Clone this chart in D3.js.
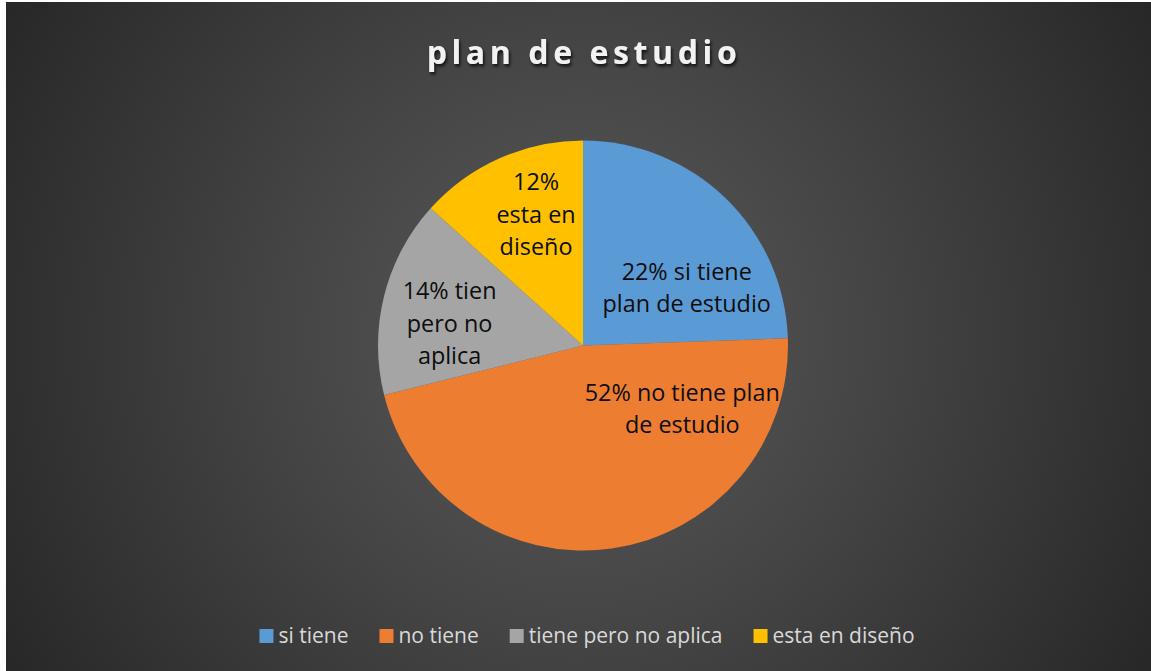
<!DOCTYPE html>
<html>
<head>
<meta charset="utf-8">
<script src="https://cdn.jsdelivr.net/npm/d3@7"></script>
<style>
  html, body { margin: 0; padding: 0; background: #ffffff; }
  svg { display: block; }
</style>
</head>
<body>
<script>
// ---- data ----
const categories = ["si tiene", "no tiene", "tiene pero no aplica", "esta en diseño"];
const values = [11, 21, 7, 6];
const labelLines = [
  ["22% si tiene", "plan de estudio"],
  ["52% no tiene plan", "de estudio"],
  ["14% tien", "pero no", "aplica"],
  ["12%", "esta en", "diseño"]
];
const colors = ["#5b9bd5", "#ed7d31", "#a5a5a5", "#ffc000"];
const title = "plan de estudio";

// ---- layout ----
const W = 1151, H = 671;
const frame = { x: 6, y: 2, w: W - 6, h: H - 2 };
const cx = 583, cy = 345.5, R = 205;
// label placement within each slice: fraction along the arc, fraction of radius
const labelPlace = [
  { t: 0.69, r: 0.58 },
  { t: 0.205, r: 0.574 },
  { t: 0.42, r: 0.66 },
  { t: 0.59, r: 0.68 }
];
const font = "'Open Sans', 'Noto Sans', sans-serif";

const svg = d3.select("body").append("svg")
  .attr("width", W).attr("height", H);

const defs = svg.append("defs");
const grad = defs.append("radialGradient")
  .attr("id", "bg").attr("gradientUnits", "userSpaceOnUse")
  .attr("cx", 578).attr("cy", 336).attr("r", 680);
grad.append("stop").attr("offset", "0%").attr("stop-color", "#5a5a5a");
grad.append("stop").attr("offset", "45%").attr("stop-color", "#444444");
grad.append("stop").attr("offset", "100%").attr("stop-color", "#262626");

const shadow = defs.append("filter").attr("id", "shadow")
  .attr("x", "-10%").attr("y", "-30%").attr("width", "120%").attr("height", "160%");
shadow.append("feDropShadow").attr("dx", 1.5).attr("dy", 2.5)
  .attr("stdDeviation", 1.5).attr("flood-color", "#000").attr("flood-opacity", 0.75);

svg.append("rect")
  .attr("x", frame.x).attr("y", frame.y).attr("width", frame.w).attr("height", frame.h)
  .attr("fill", "url(#bg)");

// title
svg.append("text")
  .attr("x", 584).attr("y", 63.5)
  .attr("text-anchor", "middle")
  .attr("font-family", font).attr("font-weight", 700)
  .attr("font-size", 32).attr("letter-spacing", 4.6)
  .attr("fill", "#f2f2f2")
  .attr("filter", "url(#shadow)")
  .text(title);

// pie
const pie = d3.pie().sort(null).value(d => d)
  .startAngle(0).endAngle(2 * Math.PI);
const arcs = pie(values);
const arc = d3.arc().innerRadius(0).outerRadius(R);

const g = svg.append("g").attr("transform", `translate(${cx},${cy})`);
g.selectAll("path.slice").data(arcs).join("path")
  .attr("class", "slice")
  .attr("d", arc)
  .attr("fill", (d, i) => colors[i]);

// labels
const lh = 32.5;
arcs.forEach((d, i) => {
  const p = labelPlace[i];
  const a = d.startAngle + (d.endAngle - d.startAngle) * p.t;
  const rr = R * p.r;
  const x = Math.sin(a) * rr, y = -Math.cos(a) * rr;
  const lines = labelLines[i];
  const t = g.append("text")
    .attr("text-anchor", "middle")
    .attr("font-family", font).attr("font-size", 23.4)
    .attr("fill", "#0d0d0d");
  lines.forEach((ln, k) => {
    t.append("tspan")
      .attr("x", x)
      .attr("y", y + (k - (lines.length - 1) / 2) * lh + 8.5)
      .text(ln);
  });
});

// legend
const legendY = 636;
const legend = svg.append("g");
const items = [];
categories.forEach((c, i) => {
  const it = legend.append("g");
  it.append("rect").attr("x", 0).attr("y", -7).attr("width", 14).attr("height", 14).attr("fill", colors[i]);
  const tx = it.append("text").attr("x", 19).attr("y", 7)
    .attr("font-family", font).attr("font-size", 21).attr("fill", "#d9d9d9").text(c);
  const w = 19 + tx.node().getComputedTextLength();
  items.push({ g: it, w });
});
const gap = 31;
const total = d3.sum(items, d => d.w) + gap * (items.length - 1);
let x0 = 587 - total / 2;
items.forEach(d => {
  d.g.attr("transform", `translate(${x0},${legendY})`);
  x0 += d.w + gap;
});
</script>
</body>
</html>
